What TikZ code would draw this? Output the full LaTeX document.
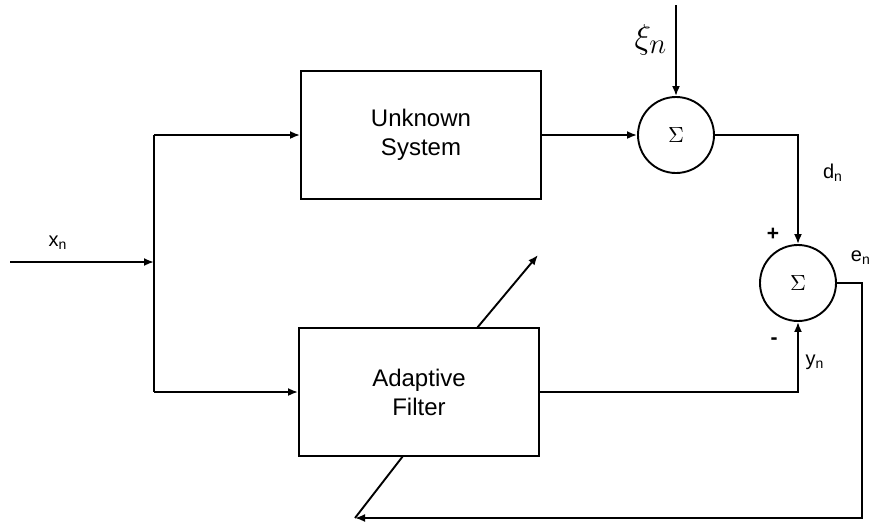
\documentclass[tikz,border=0pt]{standalone}
\usepackage{fontspec}
\setmainfont{Liberation Sans}
\usetikzlibrary{arrows.meta}
\begin{document}
\begin{tikzpicture}[x=0.5pt,y=-0.5pt,
  line width=0.95pt,
  arr/.style={-{Latex[length=5pt,width=4pt]}},
  blockbox/.style={draw, minimum width=120pt, minimum height=64pt, align=center,
    font=\fontsize{12}{14.5}\selectfont, inner sep=0pt},
  sumnode/.style={draw, circle, minimum size=38pt, inner sep=0pt,
    font=\fontsize{10.5}{11}\selectfont},
  lab/.style={font=\fontsize{10}{11}\selectfont, inner sep=0pt}]
\useasboundingbox (0,0) rectangle (869,527);

\node[blockbox] (unk) at (421,135) {Unknown\\System};
\node[blockbox] (ada) at (419,392) {Adaptive\\Filter};
\node[sumnode] (s1) at (676,135) {$\Sigma$};
\node[sumnode] (s2) at (798,283) {$\Sigma$};

\coordinate (in) at (10,262);
\coordinate (J) at (154,262);
\coordinate (xitop) at (676,5);
\coordinate (fbc) at (862,518);
\coordinate (fbend) at (355,518);
\coordinate (dgl) at (403,456);
\coordinate (dgu) at (477,328);
\coordinate (dgtip) at (538,255);

% input distribution
\draw[arr] (in) -- (J);
\draw (J |- unk.west) -- (J |- ada.west);
\draw[arr] (J |- unk.west) -- (unk.west);
\draw[arr] (J |- ada.west) -- (ada.west);

% desired path
\draw[arr] (unk.east) -- (s1.west);
\draw[arr] (xitop) -- (s1.north);
\draw[arr] (s1.east) -| (s2.north);

% filter output
\draw[arr] (ada.east) -| (s2.south);

% error feedback
\draw[arr] (s2.east) -| (fbc) -- (fbend);
\draw (fbend) -- (dgl);
\draw[arr] (dgu) -- (dgtip);

% labels
\node[lab] (lx) at (58,243) {x\textsubscript{n}};
\node[inner sep=0pt, font=\fontsize{19}{22}\selectfont] (lxi) at (651,40) {$\xi_n$};
\node[lab] (ld) at (833,173) {d\textsubscript{n}};
\node[lab, font=\fontsize{10.5}{11}\selectfont\bfseries] (lp) at (773,234) {+};
\node[lab, font=\fontsize{10.5}{11}\selectfont\bfseries] (lm) at (774,341) {-};
\node[lab] (ly) at (815,362) {y\textsubscript{n}};
\node[lab, anchor=west] (le) at (850,258) {e\textsubscript{n}};
\end{tikzpicture}
\end{document}
